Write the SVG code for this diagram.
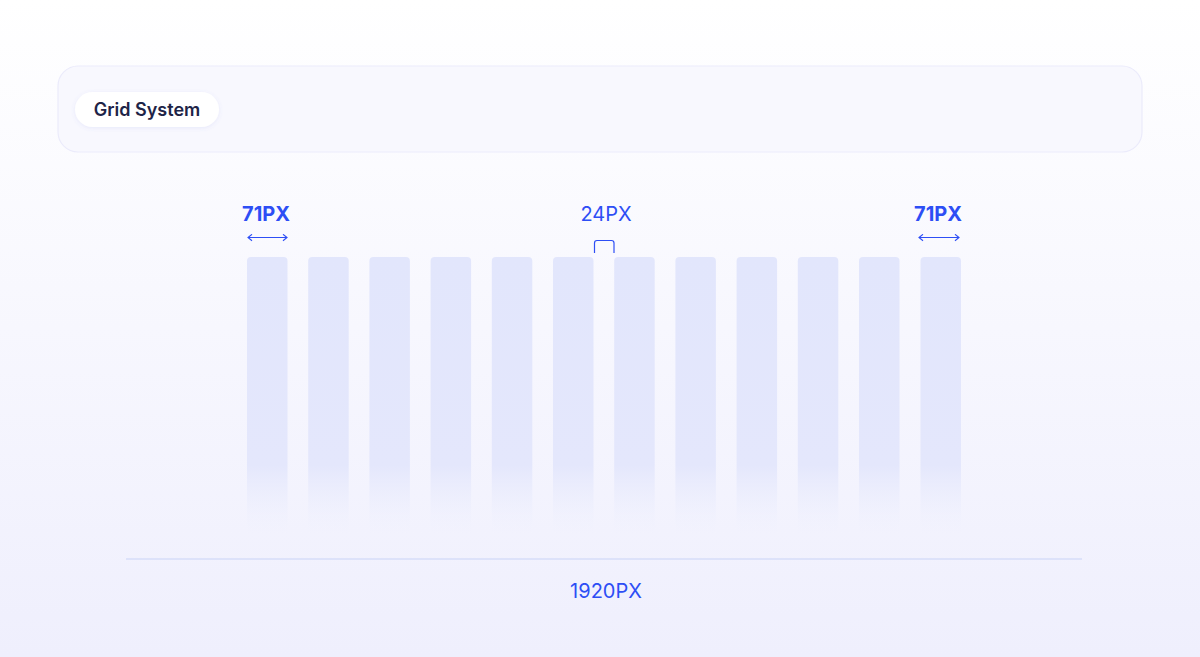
<svg xmlns="http://www.w3.org/2000/svg" width="1200" height="657" viewBox="0 0 1200 657">
<defs>
<linearGradient id="bg" x1="0" y1="0" x2="0" y2="1">
<stop offset="0" stop-color="#ffffff"/>
<stop offset="1" stop-color="#efeffd"/>
</linearGradient>
<linearGradient id="col" x1="0" y1="0" x2="0" y2="1">
<stop offset="0" stop-color="#e2e6fc"/>
<stop offset="0.75" stop-color="#e4e7fc"/>
<stop offset="1" stop-color="#eef0fd" stop-opacity="0"/>
</linearGradient>
<marker id="ah" viewBox="0 0 10 10" refX="9" refY="5" markerWidth="8" markerHeight="8" orient="auto-start-reverse" markerUnits="userSpaceOnUse">
<path d="M4,1 L9,5 L4,9" fill="none" stroke="#2d4ef5" stroke-width="1.4"/>
</marker>
<filter id="sh" x="-10%" y="-30%" width="120%" height="160%">
<feDropShadow dx="0" dy="1" stdDeviation="2" flood-color="#6070e0" flood-opacity="0.12"/>
</filter>
</defs>
<style>
.lbl{font-family:Inter,"Liberation Sans",sans-serif;font-size:20px;fill:#2d4ef5;text-anchor:middle}
.b{font-weight:700}
.c{fill:url(#col)}
.dim{stroke:#2d4ef5;stroke-width:1.2;fill:none}
</style>
<rect width="1200" height="657" fill="url(#bg)"/>
<g id="header">
<rect x="58" y="66" width="1084" height="86" rx="20" fill="#f8f8fe" stroke="#ebebfb" stroke-width="1.2"/>
<rect x="75" y="92" width="144" height="35" rx="17.5" fill="#ffffff" filter="url(#sh)"/>
<text x="147" y="116" font-family="Inter,'Liberation Sans',sans-serif" font-size="18" font-weight="600" fill="#1e2447" text-anchor="middle">Grid System</text>
</g>
<g id="columns">
<rect class="c" x="247" y="257" width="40.5" height="278" rx="4"/>
<rect class="c" x="308.2" y="257" width="40.5" height="278" rx="4"/>
<rect class="c" x="369.4" y="257" width="40.5" height="278" rx="4"/>
<rect class="c" x="430.6" y="257" width="40.5" height="278" rx="4"/>
<rect class="c" x="491.8" y="257" width="40.5" height="278" rx="4"/>
<rect class="c" x="553" y="257" width="40.5" height="278" rx="4"/>
<rect class="c" x="614.2" y="257" width="40.5" height="278" rx="4"/>
<rect class="c" x="675.4" y="257" width="40.5" height="278" rx="4"/>
<rect class="c" x="736.6" y="257" width="40.5" height="278" rx="4"/>
<rect class="c" x="797.8" y="257" width="40.5" height="278" rx="4"/>
<rect class="c" x="859" y="257" width="40.5" height="278" rx="4"/>
<rect class="c" x="920.5" y="257" width="40.5" height="278" rx="4"/>
</g>
<g id="connectors">
<line class="dim" x1="248" y1="237.5" x2="287" y2="237.5" marker-start="url(#ah)" marker-end="url(#ah)"/>
<line class="dim" x1="919" y1="237.5" x2="959" y2="237.5" marker-start="url(#ah)" marker-end="url(#ah)"/>
<path class="dim" d="M594.5,253 V243 Q594.5,240.5 597,240.5 H611.5 Q614,240.5 614,243 V253"/>
<line x1="126" y1="559" x2="1082" y2="559" stroke="#dde2fa" stroke-width="2"/>
</g>
<g id="labels">
<text class="lbl b" x="266" y="221">71PX</text>
<text class="lbl" x="606" y="221">24PX</text>
<text class="lbl b" x="938" y="221">71PX</text>
<text class="lbl" x="606" y="598">1920PX</text>
</g>
</svg>
